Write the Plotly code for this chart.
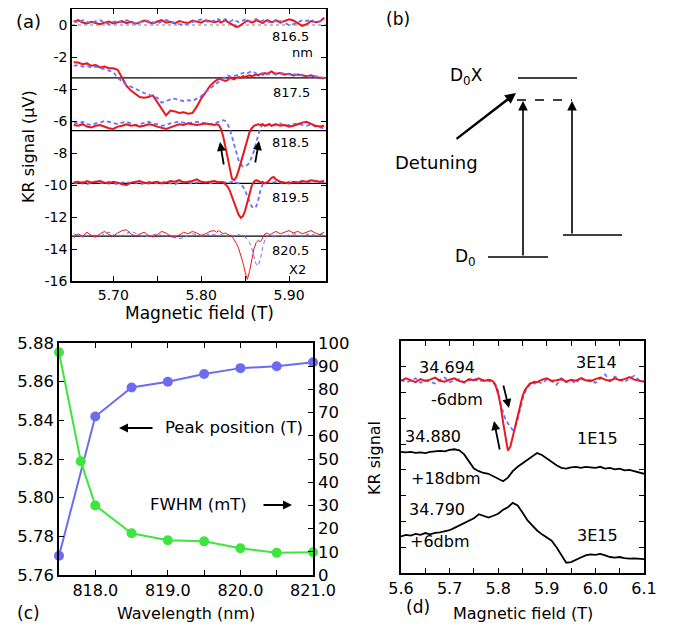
import plotly.graph_objects as go

# The page is drawn with an 8 px body offset, so the figure is sized to the
# remaining viewport and all reference pixel positions are shifted by that offset.
OFFSET = 8
VIEW_W, VIEW_H = 675, 627
W, H = VIEW_W - OFFSET, VIEW_H - OFFSET
FONT = "DejaVu Sans"
RED = "#e8191e"
BLUE = "#6e6eff"
BLUE_C = "#6c6cf0"
GREEN_C = "#3de63d"

# ---------------- Panel (a): KR signal vs magnetic field -----------------
FIELD_A = [5.655, 5.660, 5.665, 5.670, 5.675, 5.680, 5.685, 5.690, 5.695, 5.700,
           5.705, 5.710, 5.715, 5.720, 5.725, 5.730, 5.735, 5.740, 5.745, 5.750,
           5.755, 5.760, 5.765, 5.770, 5.775, 5.780, 5.785, 5.790, 5.795, 5.800,
           5.805, 5.810, 5.815,
           5.8175, 5.8200, 5.8225, 5.8250, 5.8275, 5.8300, 5.8325, 5.8350, 5.8375, 5.8400,
           5.8425, 5.8450, 5.8475, 5.8500, 5.8525, 5.8550, 5.8575, 5.8600, 5.8625, 5.8650,
           5.8675, 5.8700, 5.8725, 5.8750, 5.8775, 5.8800, 5.8825,
           5.885, 5.890, 5.895, 5.900, 5.905, 5.910, 5.915, 5.920, 5.925, 5.930, 5.935, 5.940]

KR_8165_UP = [0.20, 0.30, 0.15, 0.10, 0.20, 0.12, 0.05, 0.15, 0.22, 0.10,
              0.18, 0.25, 0.12, 0.20, 0.08, 0.15, 0.28, 0.18, 0.10, 0.22,
              0.30, 0.15, 0.20, 0.10, 0.25, 0.18, 0.12, 0.28, 0.20, 0.15,
              0.30, 0.22, 0.18,
              0.20, 0.25, 0.15, 0.22, 0.30, 0.20, 0.12, 0.05, -0.05, -0.12,
              -0.10, 0.00, 0.12, 0.20, 0.28, 0.22, 0.15, 0.20, 0.30, 0.25,
              0.18, 0.12, 0.22, 0.30, 0.25, 0.18, 0.22,
              0.30, 0.15, 0.25, 0.35, 0.28, 0.10, -0.05, 0.05, 0.25, 0.18, 0.22, 0.45]
KR_8165_DOWN = [0.25, 0.15, 0.30, 0.20, 0.10, 0.25, 0.30, 0.15, 0.05, 0.20,
                0.25, 0.15, 0.30, 0.22, 0.10, 0.18, 0.30, 0.25, 0.15, 0.08,
                0.20, 0.32, 0.22, 0.12, 0.05, 0.00, 0.10, 0.20, 0.28, 0.35,
                0.25, 0.15, 0.30,
                0.40, 0.35, 0.25, 0.30, 0.38, 0.30, 0.22, 0.28, 0.35, 0.25,
                0.18, 0.22, 0.30, 0.35, 0.28, 0.20, 0.25, 0.32, 0.38, 0.30,
                0.22, 0.28, 0.35, 0.25, 0.15, 0.10, 0.20,
                0.30, 0.25, 0.10, 0.00, 0.05, 0.20, 0.30, 0.25, 0.35, 0.15, 0.25, 0.30]
KR_8175_UP = [-2.33, -2.35, -2.45, -2.40, -2.55, -2.50, -2.65, -2.60, -2.70, -2.70,
              -2.80, -3.30, -3.80, -4.10, -4.30, -4.50, -4.55, -4.50, -4.40, -4.80,
              -5.20, -5.65, -5.35, -5.40, -5.50, -5.45, -5.55, -5.50, -5.10, -4.60,
              -4.20, -3.80, -3.55,
              -3.45, -3.35, -3.40, -3.45, -3.50, -3.45, -3.30, -3.35, -3.40, -3.30,
              -3.25, -3.30, -3.20, -3.25, -3.20, -3.15, -3.20, -3.15, -3.10, -3.15,
              -3.05, -3.10, -3.00, -3.05, -2.95, -2.90, -3.00,
              -3.05, -3.00, -3.10, -3.05, -3.15, -3.10, -3.15, -3.20, -3.15, -3.25, -3.30, -3.35]
KR_8175_DOWN = [-2.55, -2.50, -2.60, -2.55, -2.65, -2.60, -2.70, -2.75, -2.85, -2.95,
                -3.30, -3.50, -3.75, -3.85, -4.00, -4.15, -4.25, -4.35, -4.45, -4.55,
                -4.85, -4.75, -4.65, -4.60, -4.70, -4.75, -4.70, -4.75, -4.60, -4.45,
                -4.20, -3.95, -3.75,
                -3.65, -3.55, -3.40, -3.30, -3.20, -3.15, -3.20, -3.25, -3.20, -3.15,
                -3.10, -3.05, -3.00, -2.95, -3.00, -2.95, -2.90, -2.95, -3.05, -3.10,
                -3.05, -3.00, -3.05, -3.10, -3.05, -3.00, -3.05,
                -3.10, -3.05, -3.00, -3.10, -3.05, -3.15, -3.10, -3.20, -3.25, -3.20, -3.25, -3.30]
KR_8185_UP = [-6.25, -6.30, -6.20, -6.35, -6.40, -6.30, -6.25, -6.35, -6.45, -6.50,
              -6.35, -6.30, -6.20, -6.30, -6.25, -6.35, -6.30, -6.20, -6.25, -6.35,
              -6.45, -6.50, -6.40, -6.30, -6.20, -6.25, -6.15, -6.20, -6.25, -6.20,
              -6.15, -6.20, -6.25,
              -6.20, -6.25, -6.50, -6.95, -7.60, -8.30, -9.10, -9.60, -9.70, -9.50,
              -9.10, -8.65, -8.15, -7.65, -7.20, -6.70, -6.45, -6.30, -6.25, -6.20,
              -6.25, -6.20, -6.30, -6.25, -6.20, -6.30, -6.25,
              -6.20, -6.30, -6.25, -6.35, -6.30, -6.20, -6.10, -6.05, -6.20, -6.30, -6.35, -6.30]
KR_8185_DOWN = [-6.10, -6.15, -6.05, -6.20, -6.25, -6.15, -6.10, -6.00, -6.05, -6.15,
                -6.20, -6.10, -6.05, -6.15, -6.25, -6.20, -6.10, -6.05, -6.15, -6.20,
                -6.30, -6.25, -6.15, -6.10, -6.05, -6.10, -6.15, -6.10, -6.05, -6.10,
                -6.15, -6.20, -6.15,
                -6.10, -6.05, -6.00, -5.95, -6.00, -6.20, -6.50, -7.00, -7.55, -8.05,
                -8.45, -8.70, -8.85, -8.80, -8.75, -8.60, -8.30, -7.90, -7.35, -6.80,
                -6.40, -6.25, -6.20, -6.25, -6.20, -6.15, -6.25,
                -6.20, -6.15, -6.30, -6.25, -6.20, -6.15, -6.25, -6.30, -6.20, -6.35, -6.40, -6.45]
KR_8195_UP = [-9.85, -9.80, -9.90, -9.75, -9.85, -9.80, -9.75, -9.85, -9.90, -9.80,
              -9.85, -9.95, -10.00, -9.85, -9.80, -9.75, -9.85, -9.90, -9.85, -9.80,
              -9.90, -9.85, -9.75, -9.80, -9.70, -9.85, -9.80, -9.75, -9.65, -9.80,
              -9.85, -9.80, -9.75,
              -9.80, -9.85, -9.80, -9.85, -9.95, -10.10, -10.35, -10.70, -11.10, -11.50,
              -11.85, -12.05, -11.95, -11.60, -11.10, -10.55, -10.05, -9.80, -9.70, -9.75,
              -9.85, -9.80, -9.90, -9.85, -9.70, -9.55, -9.50,
              -9.65, -9.80, -9.85, -9.90, -9.80, -9.85, -9.75, -9.80, -9.70, -9.75, -9.80, -9.75]
KR_8195_DOWN = [-9.85, -9.90, -9.80, -9.95, -9.85, -9.80, -9.90, -9.85, -9.80, -9.90,
                -9.95, -9.85, -9.80, -9.90, -9.85, -9.95, -9.90, -9.80, -9.85, -9.90,
                -9.85, -9.80, -9.90, -9.95, -9.85, -9.80, -9.85, -9.90, -9.85, -9.80,
                -9.85, -9.90, -9.85,
                -9.85, -9.80, -9.85, -9.80, -9.85, -9.90, -9.85, -9.80, -9.85, -9.85,
                -9.90, -9.95, -10.10, -10.35, -10.70, -11.05, -11.35, -11.45, -11.35, -10.90,
                -10.30, -9.95, -9.85, -9.80, -9.85, -9.80, -9.85,
                -9.80, -9.85, -9.90, -9.80, -9.85, -9.75, -9.80, -9.85, -9.80, -9.75, -9.85, -9.80]
KR_8205_UP = [-13.30, -13.05, -13.20, -12.95, -13.15, -13.25, -13.05, -12.90, -13.10, -13.20,
              -13.00, -12.85, -12.80, -13.05, -13.20, -13.10, -12.95, -13.15, -13.25, -13.10,
              -12.90, -13.00, -13.20, -13.30, -13.15, -12.95, -13.05, -12.90, -13.00, -13.15,
              -13.05, -12.90, -12.85,
              -12.95, -12.85, -12.95, -13.05, -13.00, -13.10, -13.15, -13.20, -13.40, -13.65,
              -13.95, -14.35, -14.85, -15.45, -15.90, -15.40, -14.70, -14.00, -13.60, -13.45,
              -13.55, -13.30, -13.05, -13.00, -13.10, -13.05, -12.95,
              -12.90, -13.05, -12.95, -12.85, -13.00, -12.90, -13.05, -12.95, -12.85, -13.00, -13.10, -12.95]
KR_8205_DOWN = [-13.05, -13.15, -13.25, -13.20, -13.10, -13.15, -13.20, -13.05, -12.95, -13.10,
                -13.20, -13.15, -13.05, -12.90, -13.00, -13.15, -13.25, -13.20, -13.10, -13.05,
                -13.15, -13.20, -13.10, -13.25, -13.35, -13.30, -13.15, -13.05, -13.10, -13.20,
                -13.15, -13.05, -13.10,
                -13.15, -13.20, -13.10, -13.05, -13.15, -13.20, -13.10, -13.15, -13.20, -13.15,
                -13.10, -13.15, -13.20, -13.25, -13.40, -13.60, -13.95, -14.50, -14.95, -15.05,
                -14.60, -13.90, -13.40, -13.20, -13.15, -13.20, -13.25,
                -13.20, -13.15, -13.25, -13.10, -13.05, -13.15, -13.20, -13.10, -13.05, -13.15, -13.10, -13.05]

BASELINES_A = [-3.3, -6.6, -9.9, -13.2]
ZERO_LINE_A = 0.0
WAVELENGTH_LABELS_A = ["816.5", "nm", "817.5", "818.5", "819.5", "820.5", "X2"]

A_XTICKS = [5.65, 5.70, 5.75, 5.80, 5.85, 5.90]
A_XTICKTEXT = ["", "5.70", "", "5.80", "", "5.90"]
A_YTICKS = [0, -2, -4, -6, -8, -10, -12, -14, -16]
A_YTICKTEXT = ["0", "-2", "-4", "-6", "-8", "-10", "-12", "-14", "-16"]

# ---------------- Panel (c): peak position & FWHM vs wavelength -----------------
WAVELENGTH_PEAK = [817.5, 818.0, 818.5, 819.0, 819.5, 820.0, 820.5, 821.0]
PEAK_POSITION = [5.770, 5.842, 5.857, 5.860, 5.864, 5.867, 5.868, 5.870]
WAVELENGTH_FWHM = [817.5, 817.8, 818.0, 818.5, 819.0, 819.5, 820.0, 820.5, 821.0]
FWHM_MT = [96, 49, 30, 18, 15, 14.5, 11.5, 9.6, 9.8]

C_XTICKS = [817.5, 818.0, 818.5, 819.0, 819.5, 820.0, 820.5, 821.0]
C_XTICKTEXT = ["", "818.0", "", "819.0", "", "820.0", "", "821.0"]
C_YTICKS = [5.76, 5.78, 5.80, 5.82, 5.84, 5.86, 5.88]
C_YTICKTEXT = ["5.76", "5.78", "5.80", "5.82", "5.84", "5.86", "5.88"]
C_Y2TICKS = [0, 10, 20, 30, 40, 50, 60, 70, 80, 90, 100]

# ---------------- Panel (d): KR signal for three samples -----------------
FIELD_D_FINE = [5.60, 5.61, 5.62, 5.63, 5.64, 5.65, 5.66, 5.67, 5.68, 5.69,
                5.70, 5.71, 5.72, 5.73, 5.74, 5.75, 5.76, 5.77, 5.78,
                5.785, 5.790, 5.795, 5.800, 5.805, 5.810, 5.815, 5.820, 5.825, 5.830,
                5.835, 5.840, 5.845, 5.850, 5.855, 5.860, 5.865, 5.870, 5.875, 5.880, 5.885,
                5.89, 5.90, 5.91, 5.92, 5.93, 5.94, 5.95, 5.96, 5.97, 5.98,
                5.99, 6.00, 6.01, 6.02, 6.03, 6.04, 6.05, 6.06, 6.07, 6.08, 6.09, 6.10]
KR_3E14_UP = [7.45, 7.55, 7.48, 7.40, 7.52, 7.45, 7.50, 7.58, 7.46, 7.42,
              7.50, 7.55, 7.45, 7.40, 7.52, 7.48, 7.55, 7.45, 7.50,
              7.48, 7.42, 7.25, 6.95, 6.50, 5.85, 5.20, 4.75, 4.90, 5.30,
              5.70, 6.10, 6.50, 6.85, 7.10, 7.25, 7.35, 7.38, 7.42, 7.40, 7.45,
              7.50, 7.55, 7.45, 7.48, 7.52, 7.42, 7.50, 7.46, 7.55, 7.48,
              7.44, 7.52, 7.58, 7.50, 7.45, 7.55, 7.48, 7.52, 7.60, 7.50, 7.45, 7.42]
KR_3E14_DOWN = [7.50, 7.40, 7.45, 7.55, 7.38, 7.48, 7.42, 7.35, 7.50, 7.58,
                7.40, 7.45, 7.52, 7.38, 7.48, 7.55, 7.42, 7.50, 7.45,
                7.42, 7.40, 7.30, 7.05, 6.55, 6.20, 5.95, 5.80, 5.65, 5.55,
                5.65, 5.95, 6.35, 6.75, 7.00, 7.20, 7.30, 7.40, 7.35, 7.45, 7.40,
                7.35, 7.50, 7.45, 7.30, 7.55, 7.40, 7.48, 7.35, 7.60, 7.45,
                7.50, 7.38, 7.55, 7.70, 7.45, 7.62, 7.50, 7.40, 7.55, 7.65, 7.48, 7.45]

FIELD_D = [5.60, 5.61, 5.62, 5.63, 5.64, 5.65, 5.66, 5.67, 5.68, 5.69,
           5.70, 5.71, 5.72, 5.73, 5.74, 5.75, 5.76, 5.77, 5.78, 5.79,
           5.80, 5.81, 5.82, 5.83, 5.84, 5.85, 5.86, 5.87, 5.88, 5.89,
           5.90, 5.91, 5.92, 5.93, 5.94, 5.95, 5.96, 5.97, 5.98, 5.99,
           6.00, 6.01, 6.02, 6.03, 6.04, 6.05, 6.06, 6.07, 6.08, 6.09, 6.10]
KR_1E15 = [4.70, 4.68, 4.70, 4.66, 4.68, 4.65, 4.70, 4.72, 4.74, 4.72,
           4.78, 4.80, 4.76, 4.60, 4.30, 4.05, 3.95, 3.88, 3.85, 3.75,
           3.65, 3.56, 3.70, 3.95, 4.12, 4.25, 4.38, 4.52, 4.65, 4.58,
           4.45, 4.30, 4.18, 4.08, 4.05, 4.10, 4.12, 4.08, 4.12, 4.10,
           4.08, 4.12, 4.05, 4.08, 4.02, 4.05, 3.98, 4.00, 3.95, 3.92, 3.85]
KR_3E15 = [1.42, 1.48, 1.45, 1.52, 1.48, 1.55, 1.50, 1.56, 1.58, 1.62,
           1.66, 1.75, 1.85, 1.95, 2.05, 2.12, 2.28, 2.22, 2.15, 2.22,
           2.30, 2.45, 2.55, 2.72, 2.62, 2.35, 2.05, 1.85, 1.65, 1.50,
           1.38, 1.25, 1.00, 0.72, 0.40, 0.42, 0.52, 0.60, 0.68, 0.72,
           0.70, 0.74, 0.68, 0.62, 0.60, 0.62, 0.58, 0.56, 0.57, 0.55, 0.54]

D_XTICKS = [5.60, 5.65, 5.70, 5.75, 5.80, 5.85, 5.90, 5.95, 6.00, 6.05, 6.10]
D_XTICKTEXT = ["5.6", "", "5.7", "", "5.8", "", "5.9", "", "6.0", "", "6.1"]
D_YTICKS = [1, 2, 3, 4, 5, 6, 7, 8]

for arr in [KR_8165_UP, KR_8165_DOWN, KR_8175_UP, KR_8175_DOWN, KR_8185_UP, KR_8185_DOWN,
            KR_8195_UP, KR_8195_DOWN, KR_8205_UP, KR_8205_DOWN]:
    assert len(arr) == len(FIELD_A), len(arr)
for arr in [KR_3E14_UP, KR_3E14_DOWN]:
    assert len(arr) == len(FIELD_D_FINE), len(arr)
for arr in [KR_1E15, KR_3E15]:
    assert len(arr) == len(FIELD_D), len(arr)


def px(x):
    return (x - OFFSET) / W


def py(y):
    return 1 - (y - OFFSET) / H


fig = go.Figure()

# Panel (a) traces
panel_a = [
    (KR_8165_UP, RED, "solid", 2.0), (KR_8165_DOWN, BLUE, "4px,3px", 1.8),
    (KR_8175_UP, RED, "solid", 2.0), (KR_8175_DOWN, BLUE, "4px,3px", 1.8),
    (KR_8185_DOWN, BLUE, "4px,3px", 1.8), (KR_8185_UP, RED, "solid", 2.0),
    (KR_8195_DOWN, BLUE, "4px,3px", 1.8), (KR_8195_UP, RED, "solid", 2.0),
    (KR_8205_DOWN, BLUE, "4px,3px", 1.0), (KR_8205_UP, RED, "solid", 1.0),
]
for ys, col, dash, w in panel_a:
    fig.add_trace(go.Scatter(x=FIELD_A, y=ys, mode="lines", xaxis="x", yaxis="y",
                             line=dict(color=col, width=w, dash=dash), hoverinfo="skip"))

# Panel (c) traces
fig.add_trace(go.Scatter(x=WAVELENGTH_PEAK, y=PEAK_POSITION, mode="lines+markers",
                         xaxis="x2", yaxis="y2", cliponaxis=False,
                         line=dict(color=BLUE_C, width=2), marker=dict(color=BLUE_C, size=10),
                         hoverinfo="skip"))
fig.add_trace(go.Scatter(x=WAVELENGTH_FWHM, y=FWHM_MT, mode="lines+markers",
                         xaxis="x2", yaxis="y3", cliponaxis=False,
                         line=dict(color=GREEN_C, width=2), marker=dict(color=GREEN_C, size=10),
                         hoverinfo="skip"))

# Panel (d) traces
fig.add_trace(go.Scatter(x=FIELD_D_FINE, y=KR_3E14_DOWN, mode="lines", xaxis="x3", yaxis="y4",
                         line=dict(color=BLUE, width=1.8, dash="4px,3px"), hoverinfo="skip"))
fig.add_trace(go.Scatter(x=FIELD_D_FINE, y=KR_3E14_UP, mode="lines", xaxis="x3", yaxis="y4",
                         line=dict(color=RED, width=2), hoverinfo="skip"))
fig.add_trace(go.Scatter(x=FIELD_D, y=KR_1E15, mode="lines", xaxis="x3", yaxis="y4",
                         line=dict(color="black", width=1.8), hoverinfo="skip"))
fig.add_trace(go.Scatter(x=FIELD_D, y=KR_3E15, mode="lines", xaxis="x3", yaxis="y4",
                         line=dict(color="black", width=1.8), hoverinfo="skip"))

shapes = []
# baselines in (a)
shapes.append(dict(type="line", xref="x domain", yref="y", x0=0, x1=1, y0=ZERO_LINE_A, y1=ZERO_LINE_A,
                   line=dict(color="#aaaaaa", width=1.5, dash="dot"), layer="below"))
for b in BASELINES_A:
    shapes.append(dict(type="line", xref="x domain", yref="y", x0=0, x1=1, y0=b, y1=b,
                       line=dict(color="black", width=1.2), layer="below"))

# Panel (b) energy diagram (pixel geometry)
DIAGRAM_LEVELS = [((518, 78), (577, 78), "solid"),
                  ((517, 100), (572, 100), "dash"),
                  ((488, 257), (548, 257), "solid"),
                  ((563, 235), (622, 235), "solid")]
for (x0, y0), (x1, y1), dash in DIAGRAM_LEVELS:
    shapes.append(dict(type="line", xref="paper", yref="paper", x0=px(x0), y0=py(y0), x1=px(x1), y1=py(y1),
                       line=dict(color="black", width=1.6, dash=dash)))


def text(x, y, s, size, angle=0, xanchor="center"):
    return dict(x=px(x), y=py(y), xref="paper", yref="paper", text=s, showarrow=False,
                xanchor=xanchor, yanchor="middle", textangle=angle,
                font=dict(family=FONT, size=size, color="black"))


def arrow(head, tail, width, size=1.0):
    return dict(x=px(head[0]), y=py(head[1]), xref="paper", yref="paper",
                ax=tail[0] - head[0], ay=tail[1] - head[1], axref="pixel", ayref="pixel",
                text="", showarrow=True, arrowhead=2, arrowsize=size, arrowwidth=width,
                arrowcolor="black")


ann = []
# panel (a)
ann.append(text(28, 21, "(a)", 18))
ann.append(text(28, 147, "KR signal (μV)", 16, angle=-90))
ann.append(text(199, 313, "Magnetic field (T)", 17))
label_pos_a = [(290, 36), (302, 53), (291, 93), (290, 142), (290, 198), (290, 251), (297, 269)]
for (x, y), s in zip(label_pos_a, WAVELENGTH_LABELS_A):
    ann.append(text(x, y, s, 13))
ann.append(arrow((220, 142), (224, 166), 1.8))
ann.append(arrow((259, 141), (255, 164), 1.8))

# panel (b)
ann.append(text(398, 19, "(b)", 17))
ann.append(text(467, 76, "D<sub>0</sub>X", 17))
ann.append(text(436, 162, "Detuning", 18))
ann.append(text(465, 257, "D<sub>0</sub>", 17))
ann.append(arrow((523, 101), (523, 257), 1.6, 1.2))
ann.append(arrow((572, 101), (572, 235), 1.6, 1.2))
ann.append(arrow((516, 93), (455, 140), 2.4, 0.9))

# panel (c)
ann.append(text(28, 613, "(c)", 17))
ann.append(text(186, 613, "Wavelength (nm)", 16))
ann.append(text(234, 428, "Peak position (T)", 16.5))
ann.append(text(198, 504, "FWHM (mT)", 16.5))
ann.append(arrow((119, 428), (154, 428), 1.8))
ann.append(arrow((292, 505), (262, 505), 1.8))

# panel (d)
ann.append(text(418, 607, "(d)", 17))
ann.append(text(523, 613, "Magnetic field (T)", 16))
ann.append(text(374, 458, "KR signal", 16, angle=-90))
D_LABELS = ["34.694", "-6dbm", "3E14", "34.880", "1E15", "+18dbm", "34.790", "3E15", "+6dbm"]
D_LABEL_POS = [(447, 367), (457, 399), (596, 362), (433, 436), (597, 438), (446, 478),
               (437, 509), (597, 535), (440, 541)]
for (x, y), s in zip(D_LABEL_POS, D_LABELS):
    ann.append(text(x, y, s, 16))
ann.append(arrow((509, 408), (503, 384), 1.8))
ann.append(arrow((494, 421), (500, 451), 1.8))

axis_common = dict(showline=True, linecolor="black", linewidth=1.5, ticks="inside", ticklen=5,
                   tickwidth=1.2, tickcolor="black", showgrid=False, zeroline=False,
                   automargin=False)

fig.update_layout(
    width=W, height=H, autosize=False,
    margin=dict(l=0, r=0, t=0, b=0, pad=0, autoexpand=False),
    paper_bgcolor="white", plot_bgcolor="white",
    showlegend=False,
    font=dict(family=FONT, color="black"),
    xaxis=dict(**axis_common, domain=[px(72), px(326)], range=[5.653, 5.942], anchor="y",
               tickmode="array", tickvals=A_XTICKS, ticktext=A_XTICKTEXT, mirror="ticks",
               tickfont=dict(family=FONT, size=14, color="black")),
    yaxis=dict(**axis_common, domain=[py(281), py(9)], range=[-16, 1.0], anchor="x",
               tickmode="array", tickvals=A_YTICKS, ticktext=A_YTICKTEXT, mirror="ticks",
               tickfont=dict(family=FONT, size=14, color="black")),
    xaxis2=dict(**axis_common, domain=[px(59), px(313)], range=[817.5, 821.0], anchor="y2",
                tickmode="array", tickvals=C_XTICKS, ticktext=C_XTICKTEXT, mirror="ticks",
                tickfont=dict(family=FONT, size=16, color="black")),
    yaxis2=dict(**axis_common, domain=[py(575), py(343)], range=[5.76, 5.88], anchor="x2",
                tickmode="array", tickvals=C_YTICKS, ticktext=C_YTICKTEXT,
                tickfont=dict(family=FONT, size=16.5, color="black")),
    yaxis3=dict(**axis_common, overlaying="y2", side="right", range=[0, 100], anchor="x2",
                tickmode="array", tickvals=C_Y2TICKS,
                tickfont=dict(family=FONT, size=16.5, color="black")),
    xaxis3=dict(**axis_common, domain=[px(401), px(644)], range=[5.6, 6.1], anchor="y4",
                tickmode="array", tickvals=D_XTICKS, ticktext=D_XTICKTEXT, mirror="ticks",
                tickfont=dict(family=FONT, size=16, color="black")),
    yaxis4=dict(**axis_common, domain=[py(573), py(341)], range=[0, 9], anchor="x3",
                tickmode="array", tickvals=D_YTICKS, showticklabels=False, mirror="ticks"),
    shapes=shapes,
    annotations=ann,
)

fig.write_html("out.html")
